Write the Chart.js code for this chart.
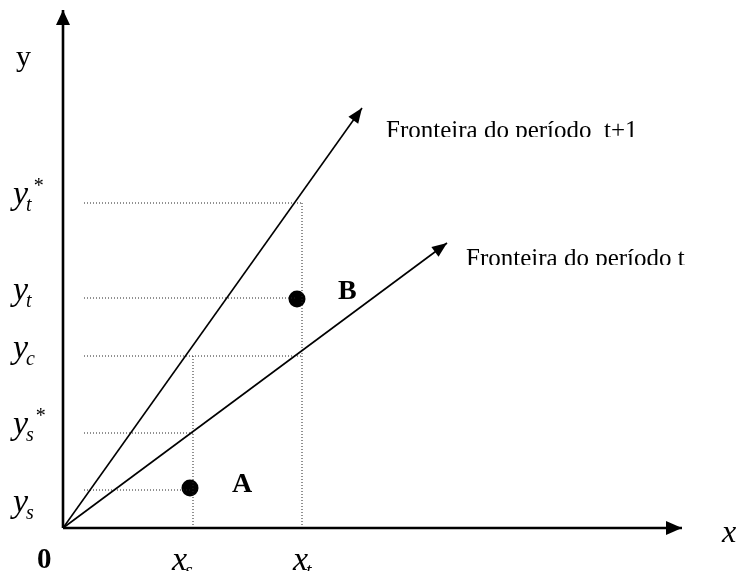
<!DOCTYPE html>
<html>
<head>
<meta charset="utf-8">
<script src="https://cdn.jsdelivr.net/npm/chart.js@4"></script>
<style>
  html, body { margin: 0; padding: 0; background: #fff; }
  canvas { display: block; }
</style>
</head>
<body>
<canvas id="diagram" width="739" height="571"></canvas>
<script>
// Diagram values (units measured from the origin 0)
const xMarks = [130, 239];                 // x_s, x_t
const yMarks = [38, 95, 172, 230, 325];    // y_s, y_s*, y_c, y_t, y_t*
const frontierT = [[0, 0], [384, 285]];    // Fronteira do período t
const frontierT1 = [[0, 0], [299, 420]];   // Fronteira do período t+1
const pointA = [127, 40];
const pointB = [234, 229];
const axisEnds = [619, 518];               // x axis tip, y axis tip
const guideStart = 21;

const [xs, xt] = xMarks;
const [ys, ysStar, yc, yt, ytStar] = yMarks;

const pt = (p) => ({ x: p[0], y: p[1] });
const seg = (a, b) => [pt(a), pt(b)];

// dotted guide lines
const guides = [
  seg([guideStart, ytStar], [xt, ytStar]),
  seg([xt, ytStar], [xt, 0]),
  seg([guideStart, yt], [pointB[0], yt]),
  seg([guideStart, yc], [xt, yc]),
  seg([xs, yc], [xs, 0]),
  seg([guideStart, ysStar], [xs, ysStar]),
  seg([guideStart, ys], [pointA[0], ys])
];

const solid = (data, width) => ({
  data, showLine: true, borderColor: '#000', borderWidth: width,
  pointRadius: 0, borderCapStyle: 'butt'
});

const datasets = [
  solid(seg([0, 0], [axisEnds[0], 0]), 2.6),
  solid(seg([0, 0], [0, axisEnds[1]]), 2.6),
  solid(frontierT.map(pt), 1.6),
  solid(frontierT1.map(pt), 1.6),
  ...guides.map(g => ({
    data: g, showLine: true, borderColor: '#222', borderWidth: 1,
    borderDash: [1, 2], pointRadius: 0
  })),
  {
    data: [pt(pointA), pt(pointB)], showLine: false,
    pointRadius: 8.5, backgroundColor: '#000', borderColor: '#000', borderWidth: 0
  }
];

const SERIF = '"Liberation Serif", "DejaVu Serif", serif';

function arrowHead(ctx, fx, fy, tx, ty, len, half) {
  const a = Math.atan2(ty - fy, tx - fx);
  const bx = tx - len * Math.cos(a), by = ty - len * Math.sin(a);
  ctx.beginPath();
  ctx.moveTo(tx, ty);
  ctx.lineTo(bx + half * Math.sin(a), by - half * Math.cos(a));
  ctx.lineTo(bx - half * Math.sin(a), by + half * Math.cos(a));
  ctx.closePath();
  ctx.fill();
}

function mathLabel(ctx, x, y, main, sub, sup, size) {
  ctx.font = `italic ${size}px ${SERIF}`;
  ctx.fillText(main, x, y);
  let w = ctx.measureText(main).width;
  let end = x + w;
  if (sub) {
    const s = Math.round(size * 0.6);
    ctx.font = `italic ${s}px ${SERIF}`;
    ctx.fillText(sub, x + w - 2, y + 7);
    end = x + w - 2 + ctx.measureText(sub).width;
  }
  if (sup) {
    ctx.font = `${Math.round(size * 0.6)}px ${SERIF}`;
    ctx.fillText(sup, end + 2, y - 12);
  }
}

const decor = {
  id: 'decor',
  afterDatasetsDraw(chart) {
    const { ctx } = chart;
    const X = v => chart.scales.x.getPixelForValue(v);
    const Y = v => chart.scales.y.getPixelForValue(v);
    ctx.save();
    ctx.fillStyle = '#000';

    // arrow heads
    arrowHead(ctx, X(0), Y(0), X(axisEnds[0]), Y(0), 16, 7);
    arrowHead(ctx, X(0), Y(0), X(0), Y(axisEnds[1]), 15, 7);
    arrowHead(ctx, X(0), Y(0), X(frontierT[1][0]), Y(frontierT[1][1]), 15, 6);
    arrowHead(ctx, X(0), Y(0), X(frontierT1[1][0]), Y(frontierT1[1][1]), 15, 6);

    ctx.textBaseline = 'alphabetic';
    ctx.textAlign = 'left';

    // axis names
    ctx.font = `30px ${SERIF}`;
    ctx.fillText('y', 16, 66);
    ctx.font = `italic 32px ${SERIF}`;
    ctx.fillText('x', 722, 542);
    ctx.font = `bold 29px ${SERIF}`;
    ctx.fillText('0', 37, 568);

    // y level labels
    mathLabel(ctx, 13, Y(ytStar) + 1, 'y', 't', '*', 34);
    mathLabel(ctx, 13, Y(yt) + 2, 'y', 't', null, 34);
    mathLabel(ctx, 13, Y(yc) + 2, 'y', 'c', null, 34);
    mathLabel(ctx, 13, Y(ysStar) + 1, 'y', 's', '*', 34);
    mathLabel(ctx, 13, Y(ys) + 22, 'y', 's', null, 34);

    // x level labels
    mathLabel(ctx, X(xs) - 21, 570, 'x', 's', null, 34);
    mathLabel(ctx, X(xt) - 9, 570, 'x', 't', null, 34);

    // point names
    ctx.font = `bold 28px ${SERIF}`;
    ctx.fillText('A', X(pointA[0]) + 42, Y(pointA[1]) + 4);
    ctx.fillText('B', X(pointB[0]) + 41, Y(pointB[1]) + 0);

    // frontier names (cut at the baseline as in the source)
    ctx.font = `25px ${SERIF}`;
    ctx.save();
    ctx.beginPath();
    ctx.rect(0, 0, 739, 137);
    ctx.clip();
    ctx.fillText('Fronteira do período  t+1', 386, 138);
    ctx.restore();
    ctx.save();
    ctx.beginPath();
    ctx.rect(0, 200, 739, 65);
    ctx.clip();
    ctx.fillText('Fronteira do período t', 466, 266);
    ctx.restore();

    ctx.restore();
  }
};

new Chart(document.getElementById('diagram').getContext('2d'), {
  type: 'scatter',
  data: { datasets },
  options: {
    responsive: false,
    animation: false,
    events: [],
    layout: { padding: 0, autoPadding: false },
    plugins: { legend: { display: false }, tooltip: { enabled: false } },
    scales: {
      x: { type: 'linear', min: -63, max: 676, display: false },
      y: { type: 'linear', min: -43, max: 528, display: false }
    }
  },
  plugins: [decor]
});
</script>
</body>
</html>
